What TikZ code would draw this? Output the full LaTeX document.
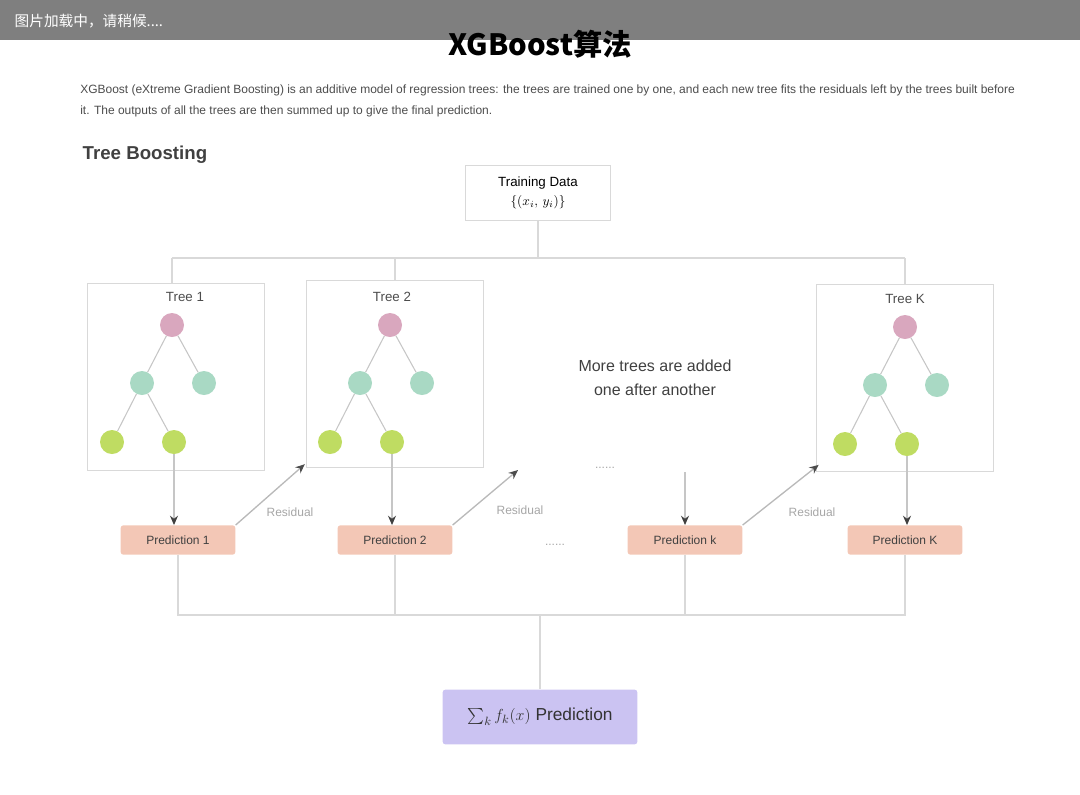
\documentclass[tikz,border=0pt]{standalone}
\usepackage{amsmath}
\usepackage{fontspec}
\setmainfont{Liberation Sans}
\newfontfamily\cjk{Noto Sans CJK SC}
\usetikzlibrary{arrows.meta}

\definecolor{rootc}{HTML}{D9A7BE}
\definecolor{midc}{HTML}{A9D9C4}
\definecolor{leafc}{HTML}{BFDC62}
\definecolor{predc}{HTML}{F3C7B6}
\definecolor{sumc}{HTML}{CBC3F2}

\begin{document}
\begin{tikzpicture}[x=0.75pt,y=-0.75pt,
    wire/.style={draw=gray!30, line width=1.5pt},
    feed/.style={draw=gray!45, line width=1pt, -{Stealth[length=7pt,width=6pt,black!75]}},
    resid/.style={draw=gray!55, line width=1pt, -{Stealth[length=7pt,width=6pt,black!70]}},
    treebox/.style={draw=gray!30, line width=1pt, minimum width=133pt, minimum height=140pt},
    treetitle/.style={text=black!70, font=\fontsize{10}{12}\selectfont},
    rootnode/.style={circle, fill=rootc, minimum size=18pt, inner sep=0pt},
    splitnode/.style={circle, fill=midc, minimum size=18pt, inner sep=0pt},
    leafnode/.style={circle, fill=leafc, minimum size=18pt, inner sep=0pt},
    edge/.style={draw=gray!45, line width=0.8pt},
    predbox/.style={fill=predc, rounded corners=2pt, minimum width=86pt, minimum height=22pt,
        text=black!75, font=\fontsize{9}{11}\selectfont},
    faint/.style={text=gray!70, font=\fontsize{9}{11}\selectfont}]

    \useasboundingbox (0,0) rectangle (1080,794);

    % title, under the loading banner
    \node[font=\cjk\bfseries\fontsize{22}{26}\selectfont] (title) at (540,44) {XGBoost算法};
    \fill[black, opacity=0.5] (0,0) rectangle (1080,40);
    \node[anchor=west, text=white, font=\cjk\fontsize{11}{13}\selectfont] (banner) at (10,21) {图片加载中，请稍候....};

    \node[anchor=north west, inner sep=0pt, text width=701pt, align=justify,
        font=\fontsize{9}{15.5}\selectfont, text=black!70] (intro) at (80,85)
        {XGBoost (eXtreme Gradient Boosting) is an additive model of regression trees: the trees are trained one by one,
        and each new tree fits the residuals left by the trees built before it. The outputs of all the trees are then summed up to give the final prediction.};

    \node[anchor=west, font=\bfseries\fontsize{14}{16}\selectfont, text=black!75] (head) at (78,155) {Tree Boosting};

    % data set
    \node[draw=gray!30, minimum width=109pt, minimum height=41pt, align=center,
        font=\fontsize{10}{14}\selectfont] (data) at (538,193) {Training Data\\$\{(x_i,\,y_i)\}$};

    \coordinate (busT) at (538,258);
    \coordinate (tA) at (172,258);
    \coordinate (tK) at (905,258);
    \draw[wire] (data) -- (busT);
    \draw[wire] (tA) -- (tK);

    % trees
    \node[treebox] (frameA) at (176,377) {};
    \node[treebox] (frameB) at (395,374) {};
    \node[treebox] (frameK) at (905,378) {};
    \draw[wire] (tA) -- (tA |- frameA.north);
    \draw[wire] (frameB.north |- tA) -- (frameB.north);
    \draw[wire] (tK) -- (frameK.north);

    \node[treetitle] (titleA) at (185,297) {Tree 1};
    \node[treetitle] (titleB) at (392,297) {Tree 2};
    \node[treetitle] (titleK) at (905,299) {Tree K};

    \foreach \t/\x/\y in {A/172/325, B/390/325, K/905/327} {
        \node[rootnode] (root\t) at (\x,\y) {};
        \node[splitnode] (n\t1) at (\x-30,\y+58) {};
        \node[splitnode] (n\t2) at (\x+32,\y+58) {};
        \node[leafnode] (l\t1) at (\x-60,\y+117) {};
        \node[leafnode] (l\t2) at (\x+2,\y+117) {};
        \draw[edge] (root\t) -- (n\t1);
        \draw[edge] (root\t) -- (n\t2);
        \draw[edge] (n\t1) -- (l\t1);
        \draw[edge] (n\t1) -- (l\t2);
    }

    \node[align=center, text=black!75, font=\fontsize{12}{18}\selectfont] (more) at (655,378)
        {More trees are added\\one after another};

    % predictions
    \node[predbox] (predA) at (178,540) {Prediction 1};
    \node[predbox] (predB) at (395,540) {Prediction 2};
    \node[predbox] (predC) at (685,540) {Prediction k};
    \node[predbox] (predK) at (905,540) {Prediction K};

    \draw[feed] (lA2) -- (lA2 |- predA.north);
    \draw[feed] (lB2) -- (lB2 |- predB.north);
    \draw[feed] (lK2) -- (lK2 |- predK.north);

    \node[faint] (dotsA) at (605,468) {......};
    \node[faint] (dotsB) at (555,545) {......};
    \coordinate (fromC) at (685,472);
    \draw[feed] (fromC) -- (predC);

    % residuals handed on to the next tree
    \coordinate (toC) at (518,470);
    \draw[resid, shorten >=16pt] (predA.north east) -- (lB1);
    \draw[resid] (predB.north east) -- (toC);
    \draw[resid, shorten >=16pt] (predC.north east) -- (lK1);
    \node[faint] (resA) at (290,512) {Residual};
    \node[faint] (resB) at (520,510) {Residual};
    \node[faint] (resC) at (812,512) {Residual};

    % sum of all trees
    \coordinate (bA) at (178,615);
    \coordinate (bK) at (905,615);
    \coordinate (bM) at (540,615);
    \draw[wire] (predA) -- (bA) -- (bK) -- (predK);
    \draw[wire] (predB) -- (predB |- bA);
    \draw[wire] (predC) -- (predC |- bA);

    \node[fill=sumc, rounded corners=2pt, minimum width=146pt, minimum height=41pt,
        font=\fontsize{13}{15}\selectfont, text=black!80] (final) at (540,717) {$\sum_k f_k(x)$ Prediction};
    \draw[wire] (bM) -- (final);
\end{tikzpicture}
\end{document}
